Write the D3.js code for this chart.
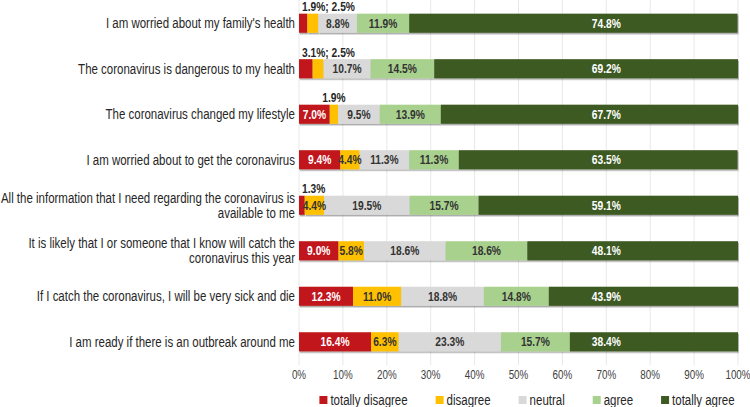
<!DOCTYPE html>
<html>
<head>
<meta charset="utf-8">
<script src="https://cdn.jsdelivr.net/npm/d3@7"></script>
<style>
  body { margin: 0; background: #fff; }
  svg { display: block; font-family: "Liberation Sans", Arial, sans-serif; }
</style>
</head>
<body>
<svg id="chart" width="750" height="407"></svg>
<script>
// categories (each entry is the wrapped lines of the label)
const categories = [
  ["I am worried about my family's health"],
  ["The coronavirus is dangerous to my health"],
  ["The coronavirus changed my lifestyle"],
  ["I am worried about to get the coronavirus"],
  ["All the information that I need regarding the coronavirus is", "available to me"],
  ["It is likely that I or someone that I know will catch the", "coronavirus this year"],
  ["If I catch the coronavirus, I will be very sick and die"],
  ["I am ready if there is an outbreak around me"]
];
const seriesNames = ["totally disagree", "disagree", "neutral", "agree", "totally agree"];
const totallyDisagree = [1.9, 3.1, 7.0, 9.4, 1.3, 9.0, 12.3, 16.4];
const disagree = [2.5, 2.5, 1.9, 4.4, 4.4, 5.8, 11.0, 6.3];
const neutral = [8.8, 10.7, 9.5, 11.3, 19.5, 18.6, 18.8, 23.3];
const agree = [11.9, 14.5, 13.9, 11.3, 15.7, 18.6, 14.8, 15.7];
const totallyAgree = [74.8, 69.2, 67.7, 63.5, 59.1, 48.1, 43.9, 38.4];
const xTicks = [0, 10, 20, 30, 40, 50, 60, 70, 80, 90, 100];

const colors = ["#c0161c", "#ffc000", "#d9d9d9", "#a9d18e", "#3d5a22"];
const labelColors = ["#fff", "#333", "#333", "#333", "#fff"];
const NARROW = 0.82; // no narrow font installed, squeeze Liberation Sans instead

const svg = d3.select("#chart");
const defs = svg.append("defs");
defs.append("filter").attr("id", "shadow")
  .attr("x", "-5%").attr("y", "-20%").attr("width", "110%").attr("height", "160%")
  .append("feDropShadow")
  .attr("dx", 0.8).attr("dy", 1.5).attr("stdDeviation", 0.7)
  .attr("flood-color", "#000").attr("flood-opacity", 0.35);

function place(sel, fx, fy) {
  sel.attr("transform", (d, i) => `translate(${fx(d, i)},${fy(d, i)}) scale(${NARROW},1)`);
}

const rows = categories.map((c, i) => ({
  idx: i,
  s0: totallyDisagree[i], s1: disagree[i], s2: neutral[i], s3: agree[i], s4: totallyAgree[i]
}));
const keys = ["s0", "s1", "s2", "s3", "s4"];
const stacked = d3.stack().keys(keys)(rows);

const x = d3.scaleLinear().domain([0, 100]).range([299, 738]).clamp(true);
const y = d3.scaleBand().domain(d3.range(categories.length)).range([0, 365])
  .paddingInner(0.58).paddingOuter(0.3);

// gridlines
svg.append("g").selectAll("line").data(xTicks).join("line")
  .attr("x1", d => x(d)).attr("x2", d => x(d))
  .attr("y1", 0).attr("y2", 365)
  .attr("stroke", "#e8e8e8").attr("stroke-width", 1);

// tick labels
const ticks = svg.append("g").selectAll("text").data(xTicks).join("text")
  .attr("dy", "0.35em")
  .attr("text-anchor", "middle").attr("font-size", 12).attr("fill", "#404040")
  .text(d => d + "%");
place(ticks, d => x(d), () => 375);

// category labels
const cat = svg.append("g").selectAll("text").data(categories).join("text")
  .attr("text-anchor", "end").attr("font-size", 14).attr("fill", "#262626");
place(cat, () => 295, (d, i) => y(i) + y.bandwidth() / 2);
cat.each(function(lines) {
  const lh = 15;
  d3.select(this).selectAll("tspan").data(lines).join("tspan")
    .attr("x", 0)
    .attr("y", (d, j) => (j - (lines.length - 1) / 2) * lh)
    .attr("dy", "0.35em")
    .text(d => d);
});

// bars
const groups = svg.append("g").selectAll("g").data(stacked).join("g")
  .attr("fill", (d, i) => colors[i]);
groups.selectAll("rect").data(d => d).join("rect")
  .attr("x", d => x(d[0]))
  .attr("width", d => x(d[1]) - x(d[0]))
  .attr("y", d => y(d.data.idx))
  .attr("height", y.bandwidth())
  .attr("filter", "url(#shadow)");

// labels inside segments
const minInside = 4;
stacked.forEach((series, si) => {
  const lab = svg.append("g").selectAll("text")
    .data(series.filter(d => d[1] - d[0] >= minInside))
    .join("text")
    .attr("dy", "0.36em")
    .attr("text-anchor", "middle")
    .attr("font-size", 12.5).attr("font-weight", "bold")
    .attr("fill", labelColors[si])
    .text(d => (d[1] - d[0]).toFixed(1) + "%");
  place(lab, d => si === 4 ? x(70) : x((d[0] + d[1]) / 2), d => y(d.data.idx) + y.bandwidth() / 2);
});

// small segment labels above bars
rows.forEach((r, i) => {
  const small = [];
  stacked.forEach(series => {
    const d = series[i];
    if (d[1] - d[0] < minInside) small.push(d);
  });
  if (!small.length) return;
  const txt = svg.append("text")
    .attr("dy", "0.35em")
    .attr("font-size", 12.5).attr("font-weight", "bold").attr("fill", "#262626")
    .text(small.map(d => (d[1] - d[0]).toFixed(1) + "%").join("; "));
  const w = txt.node().getComputedTextLength() * NARROW;
  const c = x((small[0][0] + small[0][1]) / 2);
  const tx = Math.max(c - w / 2, x(0) + 3);
  txt.attr("transform", `translate(${tx},${y(i) - 7}) scale(${NARROW},1)`);
});

// legend
const legend = svg.append("g");
let lx = 0;
seriesNames.forEach((name, i) => {
  const g = legend.append("g").attr("transform", `translate(${lx},0)`);
  g.append("rect").attr("x", 0).attr("y", -4).attr("width", 8).attr("height", 8)
    .attr("fill", colors[i]);
  const t = g.append("text").attr("dy", "0.35em")
    .attr("transform", `translate(11,0) scale(${NARROW},1)`)
    .attr("font-size", 14).attr("fill", "#262626").text(name);
  lx += 11 + t.node().getComputedTextLength() * NARROW + 28;
});
const legendW = lx - 28;
legend.attr("transform", `translate(${527 - legendW / 2},400)`);
</script>
</body>
</html>
